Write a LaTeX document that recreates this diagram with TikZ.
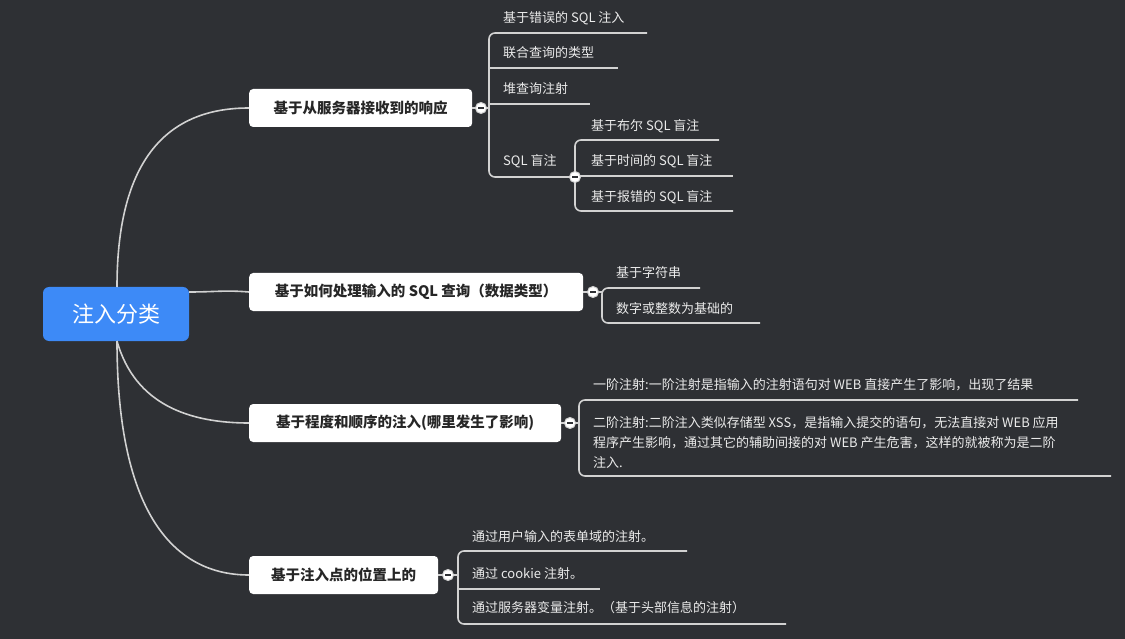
\documentclass[tikz,border=0pt]{standalone}
\usepackage{fontspec}
\setmainfont{Noto Sans CJK SC}
\usetikzlibrary{positioning}
\definecolor{bgdark}{HTML}{2E3034}
\definecolor{rootblue}{HTML}{3D8AF7}
\definecolor{linegray}{HTML}{D2D2D2}
\tikzset{
  root/.style={rectangle, rounded corners=6pt, fill=rootblue, text=white, minimum width=146pt, minimum height=54pt, font=\fontsize{22}{26}\selectfont},
  topic/.style={rectangle, rounded corners=4pt, fill=white, text=black!85, minimum height=38pt, anchor=west, inner xsep=15pt, font=\fontsize{14.5}{18}\selectfont\bfseries},
  leaf/.style={anchor=west, text=white!92!black, inner sep=0pt, font=\fontsize{13}{20}\selectfont},
  link/.style={draw=linegray, line width=1.6pt},
  branch/.style={draw=linegray, line width=1.6pt, rounded corners=6pt},
  fold/.style={circle, fill=white, draw=linegray, line width=1pt, inner sep=0pt, minimum size=11pt,
    path picture={\draw[bgdark, line width=1.3pt] ([xshift=-3pt]path picture bounding box.center) -- ([xshift=3pt]path picture bounding box.center);}}
}
\begin{document}
\begin{tikzpicture}[x=1pt,y=-1pt]
  \fill[bgdark] (0,0) rectangle (1125,639);
  \useasboundingbox (0,0) rectangle (1125,639);

  % root and topics
  \node (R) [root] at (116,314) {注入分类};
  \node (A) [topic, minimum width=223pt] at (249,108) {基于从服务器接收到的响应};
  \node (B) [topic, minimum width=334pt] at (249,292) {基于如何处理输入的 SQL 查询（数据类型）};
  \node (C) [topic, minimum width=312pt] at (249,423) {基于程度和顺序的注入(哪里发生了影响)};
  \node (D) [topic, minimum width=189pt] at (249,575) {基于注入点的位置上的};

  \draw[link] (117,287) .. controls (117,150) and (175,108) .. (A.west);
  \draw[link] (R.east |- 0,292) .. controls (215,292) and (225,290) .. (B.west);
  \draw[link] (117,341) .. controls (135,405) and (190,423) .. (C.west);
  \draw[link] (117,341) .. controls (117,515) and (175,575) .. (D.west);

  % response branch
  \node (a1) [leaf] at (503,18) {基于错误的 SQL 注入};
  \node (a2) [leaf] at (503,53) {联合查询的类型};
  \node (a3) [leaf] at (503,89) {堆查询注射};
  \node (a4) [leaf] at (503,161) {SQL 盲注};
  \draw[branch] (647,33) -- (489,33) -- (489,177) -- (575,177);
  \draw[link] (489,68) -- (618,68);
  \draw[link] (489,104) -- (590,104);
  \draw[link] (A.east) -- (489,108);
  \node (fA) [fold] at (481,108) {};

  \node (b1) [leaf] at (591,126) {基于布尔 SQL 盲注};
  \node (b2) [leaf] at (591,161) {基于时间的 SQL 盲注};
  \node (b3) [leaf] at (591,197) {基于报错的 SQL 盲注};
  \draw[branch] (719,140) -- (575,140) -- (575,211) -- (733,211);
  \draw[link] (575,176) -- (733,176);
  \node (fS) [fold] at (575,177) {};

  % data type branch
  \node (c1) [leaf] at (616,273) {基于字符串};
  \node (c2) [leaf] at (616,309) {数字或整数为基础的};
  \draw[branch] (700,288) -- (602,288) -- (602,323) -- (760,323);
  \draw[link] (B.east) -- (602,292);
  \node (fB) [fold] at (593,292) {};

  % order branch
  \node (d1) [leaf] at (593,385) {一阶注射:一阶注射是指输入的注射语句对 WEB 直接产生了影响，出现了结果};
  \node (d2) [leaf, align=left] at (593,442) {二阶注射:二阶注入类似存储型 XSS，是指输入提交的语句，无法直接对 WEB 应用\\程序产生影响，通过其它的辅助间接的对 WEB 产生危害，这样的就被称为是二阶\\注入.};
  \draw[branch] (1078,400) -- (579,400) -- (579,476) -- (1111,476);
  \draw[link] (C.east) -- (579,423);
  \node (fC) [fold] at (570,423) {};

  % position branch
  \node (e1) [leaf] at (472,537) {通过用户输入的表单域的注射。};
  \node (e2) [leaf] at (472,574) {通过 cookie 注射。};
  \node (e3) [leaf] at (472,608) {通过服务器变量注射。（基于头部信息的注射）};
  \draw[branch] (687,551) -- (458,551) -- (458,624) -- (786,624);
  \draw[link] (458,589) -- (600,589);
  \draw[link] (D.east) -- (458,575);
  \node (fD) [fold] at (448,575) {};
\end{tikzpicture}
\end{document}
